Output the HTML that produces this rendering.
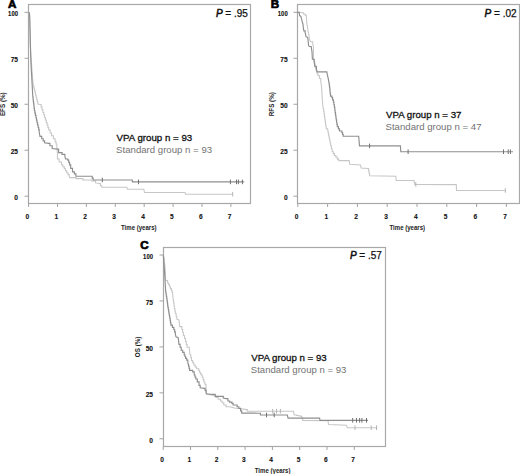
<!DOCTYPE html><html><head><meta charset="utf-8"><style>
html,body{margin:0;padding:0;background:#fff;}
body{width:520px;height:474px;overflow:hidden;position:relative;}
svg{position:absolute;left:0;top:0;display:block;}
text{font-family:"Liberation Sans",sans-serif;}
.tl{font-size:6.6px;font-weight:bold;fill:#111;stroke:#111;stroke-width:0.1px;}
.ax{font-size:6.3px;font-weight:bold;fill:#222;}
.let{font-size:11.6px;font-weight:bold;fill:#000;stroke:#000;stroke-width:0.7px;}
.pv{font-size:10px;fill:#111;stroke:#111;stroke-width:0.25px;}
.l1{font-size:9.7px;fill:#111;stroke:#111;stroke-width:0.3px;}
.l2{font-size:9.7px;fill:#727272;}
</style></head><body><svg width="520" height="474" viewBox="0 0 520 474">
<rect x="28.5" y="4.5" width="222.0" height="199.0" fill="none" stroke="#a8a8a8" stroke-width="1.2"/>
<line x1="24.5" y1="196.20" x2="28.5" y2="196.20" stroke="#a3a3a3" stroke-width="1"/>
<text x="18.00" y="200.10" class="tl" text-anchor="end">0</text>
<line x1="24.5" y1="150.22" x2="28.5" y2="150.22" stroke="#a3a3a3" stroke-width="1"/>
<text x="18.00" y="154.12" class="tl" text-anchor="end">25</text>
<line x1="24.5" y1="104.25" x2="28.5" y2="104.25" stroke="#a3a3a3" stroke-width="1"/>
<text x="18.00" y="108.15" class="tl" text-anchor="end">50</text>
<line x1="24.5" y1="58.27" x2="28.5" y2="58.27" stroke="#a3a3a3" stroke-width="1"/>
<text x="18.00" y="62.17" class="tl" text-anchor="end">75</text>
<line x1="24.5" y1="12.30" x2="28.5" y2="12.30" stroke="#a3a3a3" stroke-width="1"/>
<text x="18.00" y="16.20" class="tl" text-anchor="end" textLength="9.9" lengthAdjust="spacingAndGlyphs">100</text>
<line x1="28.60" y1="203.5" x2="28.60" y2="207.0" stroke="#a3a3a3" stroke-width="1"/>
<text x="27.40" y="218.50" class="tl" text-anchor="middle">0</text>
<line x1="57.50" y1="203.5" x2="57.50" y2="207.0" stroke="#a3a3a3" stroke-width="1"/>
<text x="56.30" y="218.50" class="tl" text-anchor="middle">1</text>
<line x1="86.40" y1="203.5" x2="86.40" y2="207.0" stroke="#a3a3a3" stroke-width="1"/>
<text x="85.20" y="218.50" class="tl" text-anchor="middle">2</text>
<line x1="115.30" y1="203.5" x2="115.30" y2="207.0" stroke="#a3a3a3" stroke-width="1"/>
<text x="114.10" y="218.50" class="tl" text-anchor="middle">3</text>
<line x1="144.20" y1="203.5" x2="144.20" y2="207.0" stroke="#a3a3a3" stroke-width="1"/>
<text x="143.00" y="218.50" class="tl" text-anchor="middle">4</text>
<line x1="173.10" y1="203.5" x2="173.10" y2="207.0" stroke="#a3a3a3" stroke-width="1"/>
<text x="171.90" y="218.50" class="tl" text-anchor="middle">5</text>
<line x1="202.00" y1="203.5" x2="202.00" y2="207.0" stroke="#a3a3a3" stroke-width="1"/>
<text x="200.80" y="218.50" class="tl" text-anchor="middle">6</text>
<line x1="230.90" y1="203.5" x2="230.90" y2="207.0" stroke="#a3a3a3" stroke-width="1"/>
<text x="229.70" y="218.50" class="tl" text-anchor="middle">7</text>
<text x="138.8" y="230.0" class="ax" text-anchor="middle" textLength="35.7" lengthAdjust="spacingAndGlyphs">Time (years)</text>
<text transform="translate(5.0,104.2) rotate(-90)" x="0" y="0" class="ax" text-anchor="middle">EFS (%)</text>
<text x="7.9" y="7.8" class="let">A</text>
<text x="247.9" y="16.6" class="pv" text-anchor="end"><tspan font-style="italic" style="stroke-width:0.5px">P</tspan> = .95</text>
<text x="116.6" y="140.9" class="l1" textLength="75.6" lengthAdjust="spacingAndGlyphs">VPA group n = 93</text>
<text x="116.1" y="152.7" class="l2" textLength="96.0" lengthAdjust="spacingAndGlyphs">Standard group n = 93</text>
<path d="M28.6,12.3 L29.3,12.8 L29.6,18.0 L30.0,35.0 L30.5,50.0 L31.0,58.0 L31.2,58.0 L31.2,60.3 L31.3,60.3 L31.3,62.7 L31.5,62.7 L31.5,65.0 L31.7,65.0 L31.7,67.3 L31.8,67.3 L31.8,69.7 L32.0,69.7 L32.0,72.0 L32.2,72.0 L32.2,74.2 L32.4,74.2 L32.4,76.5 L32.5,76.5 L32.5,78.7 L32.7,78.7 L32.7,80.9 L32.9,80.9 L32.9,83.2 L33.1,83.2 L33.1,85.4 L33.8,85.4 L33.8,87.9 L34.4,87.9 L34.4,90.4 L35.0,90.4 L35.0,92.7 L35.5,92.7 L35.5,94.9 L36.1,94.9 L36.1,97.2 L36.7,97.2 L36.7,99.5 L37.2,99.5 L37.2,101.7 L37.8,101.7 L37.8,104.0 L40.3,104.5 L41.2,104.5 L41.2,107.1 L42.0,107.1 L42.0,109.8 L42.9,109.8 L42.9,112.4 L43.8,112.4 L43.8,114.9 L44.6,114.9 L44.6,117.5 L45.4,117.5 L45.4,120.0 L46.3,120.0 L46.3,122.5 L47.1,122.5 L47.1,125.0 L47.9,125.0 L47.9,127.5 L48.7,127.5 L48.7,130.0 L50.2,130.0 L50.2,132.9 L51.6,132.9 L51.6,135.8 L53.4,135.8 L53.4,138.7 L55.1,138.7 L55.1,141.6 L56.0,141.6 L56.0,143.9 L56.8,143.9 L56.8,146.2 L57.4,153.2 L57.4,159.0 L59.1,159.0 L59.1,161.9 L61.4,161.9 L61.4,164.8 L62.8,164.8 L62.8,166.8 L64.3,166.8 L64.3,168.8 L65.5,168.8 L65.5,170.8 L66.7,170.8 L66.7,172.8 L68.0,172.8 L68.0,174.8 L69.3,174.8 L69.3,176.8 L69.8,177.6 L76.0,177.6 L76.0,178.6 L83.0,178.6 L83.0,180.0 L91.7,180.0 L91.7,181.0 L94.6,181.0 L95.6,181.0 L95.6,182.9 L99.4,183.4 L100.4,183.4 L100.4,185.8 L101.8,185.8 L101.8,187.2 L126.9,187.2 L127.5,189.3 L143.8,189.3 L144.5,192.5 L185.0,192.5 L185.5,194.2 L232.7,194.2" fill="none" stroke="#c6c6c6" stroke-width="1.05" stroke-linejoin="miter"/>
<line x1="232.7" y1="191.9" x2="232.7" y2="196.5" stroke="#b4b4b4" stroke-width="1"/>
<path d="M28.6,12.3 L29.3,12.8 L29.7,16.0 L30.1,30.0 L30.5,48.0 L30.8,58.0 L31.2,68.0 L31.9,80.0 L32.8,97.0 L33.1,97.0 L33.1,99.3 L33.3,99.3 L33.3,101.6 L33.6,101.6 L33.6,103.8 L33.9,103.8 L33.9,106.1 L34.1,106.1 L34.1,108.4 L34.4,108.4 L34.4,110.7 L34.9,110.7 L34.9,113.1 L35.4,113.1 L35.4,115.4 L36.0,115.4 L36.0,117.8 L36.5,117.8 L36.5,120.1 L37.0,120.1 L37.0,122.5 L37.5,122.5 L37.5,124.9 L38.1,124.9 L38.1,127.2 L38.7,127.2 L38.7,129.6 L39.2,129.6 L39.2,132.0 L40.0,136.4 L41.7,136.4 L41.7,138.7 L43.2,138.7 L43.2,140.8 L44.6,140.8 L44.6,142.8 L48.7,143.3 L49.9,143.3 L49.9,145.7 L52.2,145.7 L52.2,148.6 L57.4,149.1 L58.6,149.1 L58.6,152.6 L62.0,152.6 L62.0,154.3 L64.9,154.3 L64.9,156.1 L65.5,159.0 L67.8,159.0 L67.8,160.1 L68.7,160.1 L68.7,162.4 L69.6,162.4 L69.6,164.8 L70.7,164.8 L70.7,168.3 L72.5,168.3 L72.5,171.8 L74.4,171.8 L74.4,173.8 L75.9,173.8 L75.9,176.2 L91.3,176.2 L92.2,176.2 L92.2,178.1 L93.2,178.1 L93.2,180.0 L130.0,180.0 L132.3,180.0 L132.3,181.9 L244.2,181.9" fill="none" stroke="#8e8e8e" stroke-width="1.15" stroke-linejoin="miter"/>
<line x1="102.3" y1="177.7" x2="102.3" y2="182.3" stroke="#707070" stroke-width="1"/>
<line x1="138.5" y1="179.6" x2="138.5" y2="184.2" stroke="#707070" stroke-width="1"/>
<line x1="230.4" y1="179.6" x2="230.4" y2="184.2" stroke="#707070" stroke-width="1"/>
<line x1="236.5" y1="179.6" x2="236.5" y2="184.2" stroke="#707070" stroke-width="1"/>
<line x1="238.4" y1="179.6" x2="238.4" y2="184.2" stroke="#707070" stroke-width="1"/>
<line x1="242.4" y1="179.6" x2="242.4" y2="184.2" stroke="#707070" stroke-width="1"/>
<rect x="297.5" y="4.5" width="222.0" height="199.0" fill="none" stroke="#a8a8a8" stroke-width="1.2"/>
<line x1="293.5" y1="196.20" x2="297.5" y2="196.20" stroke="#a3a3a3" stroke-width="1"/>
<text x="287.70" y="200.10" class="tl" text-anchor="end">0</text>
<line x1="293.5" y1="150.22" x2="297.5" y2="150.22" stroke="#a3a3a3" stroke-width="1"/>
<text x="287.70" y="154.12" class="tl" text-anchor="end">25</text>
<line x1="293.5" y1="104.25" x2="297.5" y2="104.25" stroke="#a3a3a3" stroke-width="1"/>
<text x="287.70" y="108.15" class="tl" text-anchor="end">50</text>
<line x1="293.5" y1="58.27" x2="297.5" y2="58.27" stroke="#a3a3a3" stroke-width="1"/>
<text x="287.70" y="62.17" class="tl" text-anchor="end">75</text>
<line x1="293.5" y1="12.30" x2="297.5" y2="12.30" stroke="#a3a3a3" stroke-width="1"/>
<text x="287.70" y="16.20" class="tl" text-anchor="end" textLength="9.9" lengthAdjust="spacingAndGlyphs">100</text>
<line x1="297.80" y1="203.5" x2="297.80" y2="207.0" stroke="#a3a3a3" stroke-width="1"/>
<text x="296.60" y="218.50" class="tl" text-anchor="middle">0</text>
<line x1="327.60" y1="203.5" x2="327.60" y2="207.0" stroke="#a3a3a3" stroke-width="1"/>
<text x="326.40" y="218.50" class="tl" text-anchor="middle">1</text>
<line x1="357.40" y1="203.5" x2="357.40" y2="207.0" stroke="#a3a3a3" stroke-width="1"/>
<text x="356.20" y="218.50" class="tl" text-anchor="middle">2</text>
<line x1="387.20" y1="203.5" x2="387.20" y2="207.0" stroke="#a3a3a3" stroke-width="1"/>
<text x="386.00" y="218.50" class="tl" text-anchor="middle">3</text>
<line x1="417.00" y1="203.5" x2="417.00" y2="207.0" stroke="#a3a3a3" stroke-width="1"/>
<text x="415.80" y="218.50" class="tl" text-anchor="middle">4</text>
<line x1="446.80" y1="203.5" x2="446.80" y2="207.0" stroke="#a3a3a3" stroke-width="1"/>
<text x="445.60" y="218.50" class="tl" text-anchor="middle">5</text>
<line x1="476.60" y1="203.5" x2="476.60" y2="207.0" stroke="#a3a3a3" stroke-width="1"/>
<text x="475.40" y="218.50" class="tl" text-anchor="middle">6</text>
<line x1="506.40" y1="203.5" x2="506.40" y2="207.0" stroke="#a3a3a3" stroke-width="1"/>
<text x="505.20" y="218.50" class="tl" text-anchor="middle">7</text>
<text x="407.3" y="230.0" class="ax" text-anchor="middle" textLength="35.7" lengthAdjust="spacingAndGlyphs">Time (years)</text>
<text transform="translate(274.0,104.2) rotate(-90)" x="0" y="0" class="ax" text-anchor="middle">RFS (%)</text>
<text x="270.7" y="7.8" class="let">B</text>
<text x="516.6" y="16.5" class="pv" text-anchor="end"><tspan font-style="italic" style="stroke-width:0.5px">P</tspan> = .02</text>
<text x="386.0" y="117.6" class="l1" textLength="75.5" lengthAdjust="spacingAndGlyphs">VPA group n = 37</text>
<text x="385.5" y="129.9" class="l2" textLength="96.0" lengthAdjust="spacingAndGlyphs">Standard group n = 47</text>
<path d="M297.0,12.3 L303.0,12.5 L303.4,13.9 L305.1,13.9 L305.1,15.2 L306.4,15.2 L306.4,17.3 L306.8,23.2 L307.7,28.3 L308.1,31.6 L308.9,35.0 L309.3,38.4 L309.8,40.1 L310.6,41.8 L312.7,41.8 L312.7,43.4 L313.5,47.4 L313.5,59.2 L314.2,62.2 L314.9,62.2 L314.9,65.1 L315.7,65.1 L315.7,68.0 L316.4,71.8 L317.1,71.8 L317.1,73.7 L317.9,73.7 L317.9,75.5 L319.4,75.5 L319.4,78.4 L320.8,78.4 L320.8,81.4 L321.6,87.3 L322.3,99.1 L322.8,106.0 L323.3,108.9 L323.7,108.9 L323.7,111.5 L324.1,111.5 L324.1,114.1 L324.4,114.1 L324.4,116.6 L324.8,116.6 L324.8,119.2 L325.1,119.2 L325.1,121.6 L325.5,121.6 L325.5,124.0 L325.9,124.0 L325.9,126.4 L326.2,126.4 L326.2,128.8 L327.7,128.8 L327.7,131.0 L328.2,131.0 L328.2,133.5 L328.7,133.5 L328.7,135.9 L329.2,135.9 L329.2,138.4 L329.7,138.4 L329.7,140.9 L330.2,140.9 L330.2,143.3 L330.7,143.3 L330.7,145.8 L331.4,145.8 L331.4,148.8 L332.2,148.8 L332.2,151.7 L333.3,151.7 L333.3,153.6 L334.4,153.6 L334.4,155.4 L335.9,155.4 L335.9,157.2 L337.3,157.2 L337.3,159.1 L338.8,159.1 L338.8,160.6 L349.1,160.6 L349.9,164.3 L360.4,165.0 L361.2,168.1 L368.1,168.5 L368.6,168.5 L368.6,170.9 L369.1,170.9 L369.1,173.4 L369.6,173.4 L369.6,175.8 L395.8,176.2 L396.2,180.4 L413.5,180.4 L414.1,180.4 L414.1,182.4 L414.7,182.4 L414.7,184.4 L456.3,184.6 L456.5,190.4 L505.3,190.4" fill="none" stroke="#c6c6c6" stroke-width="1.05" stroke-linejoin="miter"/>
<line x1="415.8" y1="182.1" x2="415.8" y2="186.7" stroke="#b4b4b4" stroke-width="1"/>
<line x1="505.3" y1="188.1" x2="505.3" y2="192.7" stroke="#b4b4b4" stroke-width="1"/>
<path d="M297.0,12.3 L299.2,12.3 L299.6,15.6 L300.9,16.4 L301.3,18.1 L301.8,19.8 L302.2,21.5 L303.0,24.0 L303.4,28.3 L303.9,30.8 L305.1,30.8 L305.1,32.5 L305.5,34.2 L306.0,36.7 L307.7,37.5 L308.1,40.1 L308.5,45.1 L309.0,46.2 L311.2,46.6 L312.0,51.8 L312.4,59.2 L314.2,59.2 L314.2,62.2 L314.9,66.6 L316.4,66.6 L316.4,68.8 L317.2,71.8 L326.8,71.8 L327.5,75.5 L328.2,78.4 L329.0,82.8 L329.2,82.8 L329.2,85.0 L329.5,85.0 L329.5,87.2 L329.8,87.2 L329.8,89.4 L330.0,89.4 L330.0,91.7 L330.2,91.7 L330.2,93.9 L330.5,93.9 L330.5,96.1 L331.9,96.1 L331.9,97.6 L332.6,97.6 L332.6,99.8 L333.4,99.8 L333.4,102.0 L333.9,102.0 L333.9,104.7 L334.4,104.7 L334.4,107.4 L334.8,107.4 L334.8,110.0 L335.1,110.0 L335.1,112.6 L335.5,112.6 L335.5,115.1 L335.9,115.1 L335.9,117.7 L336.2,117.7 L336.2,119.9 L336.6,119.9 L336.6,122.2 L336.9,122.2 L336.9,124.4 L337.3,124.4 L337.3,126.6 L338.4,126.6 L338.4,128.8 L339.5,128.8 L339.5,131.0 L341.8,131.0 L341.8,132.5 L342.5,132.5 L342.5,134.3 L343.2,134.3 L343.2,136.2 L358.7,136.2 L359.5,145.9 L400.4,145.9 L400.8,151.7 L513.0,151.7" fill="none" stroke="#8e8e8e" stroke-width="1.15" stroke-linejoin="miter"/>
<line x1="369.6" y1="143.6" x2="369.6" y2="148.2" stroke="#707070" stroke-width="1"/>
<line x1="408.1" y1="149.4" x2="408.1" y2="154.0" stroke="#707070" stroke-width="1"/>
<line x1="503.5" y1="149.4" x2="503.5" y2="154.0" stroke="#707070" stroke-width="1"/>
<line x1="508.2" y1="149.4" x2="508.2" y2="154.0" stroke="#707070" stroke-width="1"/>
<line x1="510.4" y1="149.4" x2="510.4" y2="154.0" stroke="#707070" stroke-width="1"/>
<rect x="163.5" y="247.5" width="222.0" height="199.0" fill="none" stroke="#a8a8a8" stroke-width="1.2"/>
<line x1="159.5" y1="438.80" x2="163.5" y2="438.80" stroke="#a3a3a3" stroke-width="1"/>
<text x="153.00" y="442.70" class="tl" text-anchor="end">0</text>
<line x1="159.5" y1="392.85" x2="163.5" y2="392.85" stroke="#a3a3a3" stroke-width="1"/>
<text x="153.00" y="396.75" class="tl" text-anchor="end">25</text>
<line x1="159.5" y1="346.90" x2="163.5" y2="346.90" stroke="#a3a3a3" stroke-width="1"/>
<text x="153.00" y="350.80" class="tl" text-anchor="end">50</text>
<line x1="159.5" y1="300.95" x2="163.5" y2="300.95" stroke="#a3a3a3" stroke-width="1"/>
<text x="153.00" y="304.85" class="tl" text-anchor="end">75</text>
<line x1="159.5" y1="255.00" x2="163.5" y2="255.00" stroke="#a3a3a3" stroke-width="1"/>
<text x="153.00" y="258.90" class="tl" text-anchor="end" textLength="9.9" lengthAdjust="spacingAndGlyphs">100</text>
<line x1="163.20" y1="446.5" x2="163.20" y2="450.0" stroke="#a3a3a3" stroke-width="1"/>
<text x="162.00" y="461.50" class="tl" text-anchor="middle">0</text>
<line x1="190.50" y1="446.5" x2="190.50" y2="450.0" stroke="#a3a3a3" stroke-width="1"/>
<text x="189.30" y="461.50" class="tl" text-anchor="middle">1</text>
<line x1="217.80" y1="446.5" x2="217.80" y2="450.0" stroke="#a3a3a3" stroke-width="1"/>
<text x="216.60" y="461.50" class="tl" text-anchor="middle">2</text>
<line x1="245.10" y1="446.5" x2="245.10" y2="450.0" stroke="#a3a3a3" stroke-width="1"/>
<text x="243.90" y="461.50" class="tl" text-anchor="middle">3</text>
<line x1="272.40" y1="446.5" x2="272.40" y2="450.0" stroke="#a3a3a3" stroke-width="1"/>
<text x="271.20" y="461.50" class="tl" text-anchor="middle">4</text>
<line x1="299.70" y1="446.5" x2="299.70" y2="450.0" stroke="#a3a3a3" stroke-width="1"/>
<text x="298.50" y="461.50" class="tl" text-anchor="middle">5</text>
<line x1="327.00" y1="446.5" x2="327.00" y2="450.0" stroke="#a3a3a3" stroke-width="1"/>
<text x="325.80" y="461.50" class="tl" text-anchor="middle">6</text>
<line x1="354.30" y1="446.5" x2="354.30" y2="450.0" stroke="#a3a3a3" stroke-width="1"/>
<text x="353.10" y="461.50" class="tl" text-anchor="middle">7</text>
<text x="272.6" y="473.0" class="ax" text-anchor="middle" textLength="35.7" lengthAdjust="spacingAndGlyphs">Time (years)</text>
<text transform="translate(140.0,346.9) rotate(-90)" x="0" y="0" class="ax" text-anchor="middle">OS (%)</text>
<text x="140.2" y="249.3" class="let">C</text>
<text x="381.9" y="259.3" class="pv" text-anchor="end"><tspan font-style="italic" style="stroke-width:0.5px">P</tspan> = .57</text>
<text x="251.3" y="360.8" class="l1" textLength="75.4" lengthAdjust="spacingAndGlyphs">VPA group n = 93</text>
<text x="250.8" y="372.9" class="l2" textLength="95.6" lengthAdjust="spacingAndGlyphs">Standard group n = 93</text>
<path d="M163.2,255.1 L163.8,257.6 L164.1,257.6 L164.1,259.9 L164.3,259.9 L164.3,262.2 L164.6,262.2 L164.6,264.4 L164.8,264.4 L164.8,266.7 L165.1,266.7 L165.1,269.0 L165.7,280.4 L167.6,280.4 L167.6,282.9 L168.6,282.9 L168.6,284.8 L169.5,284.8 L169.5,286.7 L170.4,286.7 L170.4,288.6 L171.4,288.6 L171.4,290.5 L172.1,290.5 L172.1,292.4 L172.7,292.4 L172.7,294.3 L173.2,300.3 L173.6,300.3 L173.6,303.0 L174.0,303.0 L174.0,305.8 L174.4,305.8 L174.4,308.5 L174.9,308.5 L174.9,310.9 L175.3,310.9 L175.3,313.3 L176.1,313.3 L176.1,316.2 L176.8,316.2 L176.8,319.2 L179.0,319.9 L179.7,326.6 L181.9,326.6 L181.9,329.5 L182.7,329.5 L182.7,332.4 L183.4,332.4 L183.4,335.4 L184.5,335.4 L184.5,338.4 L185.6,338.4 L185.6,341.4 L186.3,341.4 L186.3,344.4 L187.1,344.4 L187.1,347.3 L189.3,347.3 L189.3,348.7 L190.0,354.7 L190.8,354.7 L190.8,357.6 L191.5,357.6 L191.5,360.6 L192.7,360.6 L192.7,362.8 L193.8,362.8 L193.8,365.0 L195.2,365.0 L195.2,366.9 L196.7,366.9 L196.7,368.7 L198.8,368.7 L198.8,370.4 L199.6,370.4 L199.6,372.2 L200.4,372.2 L200.4,374.0 L201.3,374.0 L201.3,375.0 L202.2,375.0 L202.2,377.3 L203.1,377.3 L203.1,379.6 L203.9,379.6 L203.9,381.9 L204.8,381.9 L204.8,384.2 L206.0,384.2 L206.0,387.7 L206.5,392.3 L207.1,394.0 L209.4,394.0 L209.4,394.6 L211.7,394.6 L211.7,395.2 L214.0,395.2 L214.0,395.8 L215.8,395.8 L215.8,397.5 L218.1,397.5 L218.1,399.2 L220.4,399.2 L220.4,401.0 L222.1,401.0 L222.1,402.7 L223.8,402.7 L223.8,405.0 L226.1,405.0 L226.1,406.7 L229.6,406.7 L231.9,407.3 L234.2,408.0 L238.8,408.5 L241.1,408.5 L241.1,408.9 L243.5,408.9 L243.5,409.2 L245.8,409.2 L245.8,409.6 L247.3,409.6 L247.3,411.2 L293.5,411.2 L294.2,415.0 L296.5,415.0 L296.5,415.5 L298.9,415.5 L298.9,416.0 L301.2,416.0 L301.2,416.5 L301.9,416.5 L301.9,418.4 L302.7,418.4 L302.7,420.4 L328.0,420.6 L328.5,424.6 L346.5,425.2 L347.3,427.7 L377.3,427.7" fill="none" stroke="#c6c6c6" stroke-width="1.05" stroke-linejoin="miter"/>
<line x1="272.7" y1="408.9" x2="272.7" y2="413.5" stroke="#b4b4b4" stroke-width="1"/>
<line x1="276.5" y1="408.9" x2="276.5" y2="413.5" stroke="#b4b4b4" stroke-width="1"/>
<line x1="280.4" y1="408.9" x2="280.4" y2="413.5" stroke="#b4b4b4" stroke-width="1"/>
<line x1="355.0" y1="425.4" x2="355.0" y2="430.0" stroke="#b4b4b4" stroke-width="1"/>
<line x1="371.2" y1="425.4" x2="371.2" y2="430.0" stroke="#b4b4b4" stroke-width="1"/>
<line x1="376.5" y1="425.4" x2="376.5" y2="430.0" stroke="#b4b4b4" stroke-width="1"/>
<path d="M163.2,255.1 L163.6,258.0 L163.8,262.7 L164.4,269.0 L165.1,281.6 L165.7,291.8 L166.0,291.8 L166.0,294.0 L166.3,294.0 L166.3,296.2 L166.7,296.2 L166.7,298.4 L167.0,298.4 L167.0,300.6 L167.3,300.6 L167.3,302.9 L167.6,302.9 L167.6,305.1 L167.9,305.1 L167.9,307.4 L168.3,307.4 L168.3,309.6 L168.7,309.6 L168.7,311.8 L169.0,311.8 L169.0,314.0 L169.4,314.0 L169.4,316.2 L169.8,316.2 L169.8,318.4 L170.2,318.4 L170.2,320.6 L170.5,320.6 L170.5,322.9 L170.9,322.9 L170.9,325.1 L172.4,325.1 L172.4,327.3 L173.8,327.3 L173.8,329.5 L174.6,329.5 L174.6,331.8 L175.3,331.8 L175.3,334.0 L176.0,336.9 L178.2,337.7 L179.0,344.3 L180.1,344.3 L180.1,347.2 L181.2,347.2 L181.2,350.2 L182.7,350.2 L182.7,352.4 L184.2,352.4 L184.2,354.7 L184.9,354.7 L184.9,356.5 L185.6,356.5 L185.6,358.3 L186.7,358.3 L186.7,360.1 L187.8,360.1 L187.8,362.0 L188.1,364.2 L188.6,364.2 L188.6,366.3 L189.1,366.3 L189.1,368.3 L189.6,368.3 L189.6,370.4 L192.7,370.4 L192.7,371.9 L194.2,371.9 L194.2,375.0 L195.0,375.0 L195.0,377.0 L195.8,377.0 L195.8,379.0 L197.3,379.0 L197.3,381.9 L199.0,381.9 L199.0,385.4 L200.2,385.4 L200.2,387.7 L204.2,388.3 L205.1,388.3 L205.1,390.3 L206.0,390.3 L206.0,392.3 L206.5,394.0 L213.5,394.4 L215.2,394.4 L215.2,396.3 L222.1,396.3 L223.3,396.3 L223.3,398.1 L226.1,398.6 L227.9,398.6 L227.9,401.0 L229.6,401.0 L229.6,402.1 L231.9,402.1 L231.9,403.3 L233.1,403.3 L233.1,405.0 L235.4,405.0 L237.1,405.0 L237.1,406.7 L238.8,406.7 L238.8,408.4 L240.6,408.4 L240.6,410.8 L241.7,410.8 L241.7,413.1 L258.1,413.2 L260.4,413.2 L260.4,415.0 L287.3,415.0 L288.1,418.1 L319.6,418.1 L320.0,420.3 L368.0,420.3" fill="none" stroke="#8e8e8e" stroke-width="1.15" stroke-linejoin="miter"/>
<line x1="266.5" y1="412.7" x2="266.5" y2="417.3" stroke="#707070" stroke-width="1"/>
<line x1="274.2" y1="412.7" x2="274.2" y2="417.3" stroke="#707070" stroke-width="1"/>
<line x1="352.7" y1="418.0" x2="352.7" y2="422.6" stroke="#707070" stroke-width="1"/>
<line x1="356.5" y1="418.0" x2="356.5" y2="422.6" stroke="#707070" stroke-width="1"/>
<line x1="359.6" y1="418.0" x2="359.6" y2="422.6" stroke="#707070" stroke-width="1"/>
<line x1="361.9" y1="418.0" x2="361.9" y2="422.6" stroke="#707070" stroke-width="1"/>
<line x1="366.5" y1="418.0" x2="366.5" y2="422.6" stroke="#707070" stroke-width="1"/>
</svg></body></html>
